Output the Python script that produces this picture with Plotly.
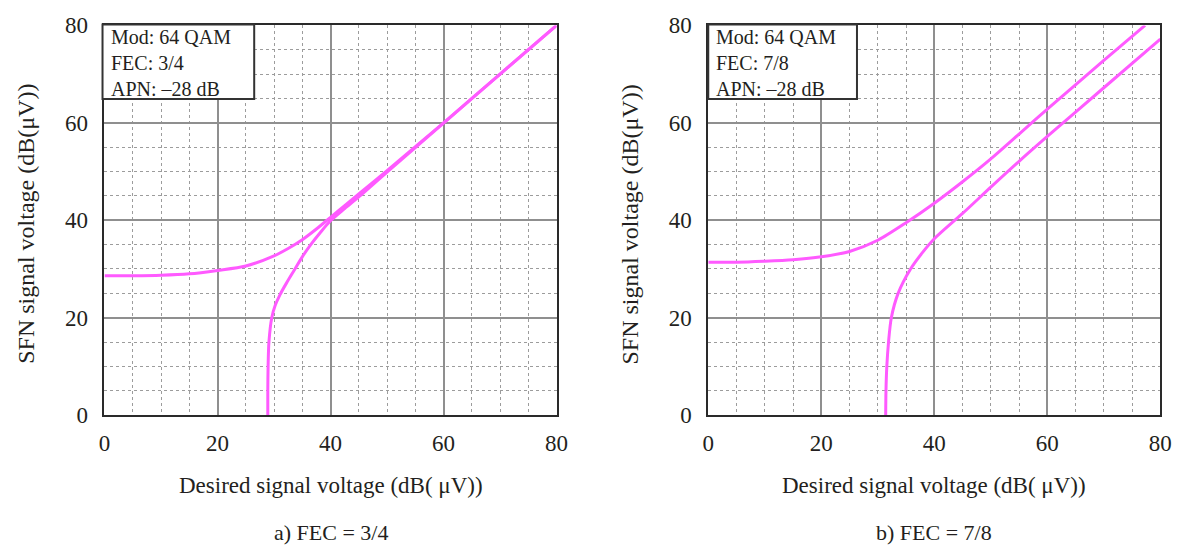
import plotly.graph_objects as go

# ---- data -------------------------------------------------------------
tick_vals = [0, 20, 40, 60, 80]

# a) FEC = 3/4
a_upper_x = [0, 5, 10, 15, 20, 25, 30, 32.5, 35, 37.5, 40, 42.5, 45, 50, 60, 70, 80]
a_upper_y = [28.6, 28.6, 28.7, 29.0, 29.7, 30.6, 32.7, 34.2, 36.0, 38.2, 40.6, 43.0, 45.4, 50.2, 60, 70, 80]
a_lower_x = [28.9, 28.9, 28.95, 29.1, 29.6, 30.2, 31.0, 32.2, 33.6, 35.0, 36.5, 38.2, 40.0, 42.5, 45, 50, 60, 70, 80]
a_lower_y = [0, 5, 10, 15, 20, 22.5, 24.6, 27.1, 29.8, 32.5, 35.0, 37.5, 39.9, 42.4, 44.8, 49.9, 59.95, 70, 80]

# b) FEC = 7/8
b_upper_x = [0, 5, 10, 15, 20, 25, 30, 35, 40, 45, 50, 55, 60, 70, 77.3]
b_upper_y = [31.4, 31.4, 31.6, 31.9, 32.5, 33.6, 35.9, 39.5, 43.5, 47.9, 52.6, 57.7, 62.8, 72.8, 80]
b_lower_x = [31.4, 31.45, 31.6, 31.9, 32.4, 33.6, 35.8, 38.0, 40.0, 45, 50, 55, 60, 70, 80]
b_lower_y = [0, 5, 10, 15, 20, 25, 30, 33.5, 36.2, 41.4, 46.8, 52.1, 57.2, 67.2, 77.2]

info_a = ["Mod: 64 QAM", "FEC: 3/4", "APN: \u201328 dB"]
info_b = ["Mod: 64 QAM", "FEC: 7/8", "APN: \u201328 dB"]
x_title = "Desired signal voltage (dB( \u03bcV))"
y_title = "SFN signal voltage (dB(\u03bcV))"
captions = ["a) FEC = 3/4", "b) FEC = 7/8"]

# ---- styling ----------------------------------------------------------
W, H = 1194, 560
FONT = "Liberation Serif"
TXT = "#231f20"
CURVE = "#ff5aff"


def px(p):
    return p / W


def py(p):
    return 1 - p / H


fig = go.Figure()

line_style = dict(color=CURVE, width=3, shape="spline", smoothing=0.8)
for xs, ys, xa, ya in [
    (a_upper_x, a_upper_y, "x", "y"),
    (a_lower_x, a_lower_y, "x", "y"),
    (b_upper_x, b_upper_y, "x2", "y2"),
    (b_lower_x, b_lower_y, "x2", "y2"),
]:
    fig.add_trace(go.Scatter(x=xs, y=ys, mode="lines", line=line_style,
                             xaxis=xa, yaxis=ya, showlegend=False,
                             hoverinfo="skip", cliponaxis=True))

common = dict(
    range=[0, 80], tickvals=tick_vals, showgrid=True,
    gridcolor="#8f8f8f", gridwidth=1.5,
    showline=True, mirror=True, linecolor="#2a2a2a", linewidth=2,
    ticks="", zeroline=False, fixedrange=True,
    tickfont=dict(family=FONT, size=23, color=TXT),
)
x_minor = dict(dtick=5, showgrid=True, gridcolor="#9c9c9c", gridwidth=1, griddash="dot")
y_minor = dict(dtick=5, showgrid=True, gridcolor="#9c9c9c", gridwidth=1, griddash="3px,3px")

y_dom = [py(422), py(14)]
fig.update_layout(
    width=W, height=H, autosize=False,
    margin=dict(l=0, r=0, t=0, b=0),
    paper_bgcolor="white", plot_bgcolor="white",
    xaxis=dict(domain=[px(100), px(559)], anchor="y", minor=x_minor,
               ticklabelstandoff=6, **common),
    yaxis=dict(domain=y_dom, anchor="x", minor=y_minor,
               ticklabelstandoff=10, **common),
    xaxis2=dict(domain=[px(713), px(1172)], anchor="y2", minor=x_minor,
                ticklabelstandoff=6, **common),
    yaxis2=dict(domain=y_dom, anchor="x2", minor=y_minor,
                ticklabelstandoff=10, **common),
)

# info boxes: framed rectangle with a three-line text block inside
shapes = []
annotations = []
for (bx0, bx1, tx, lines) in [(98, 252, 106, info_a), (713, 864, 720, info_b)]:
    shapes.append(dict(type="rect", xref="paper", yref="paper",
                       x0=px(bx0), x1=px(bx1), y0=py(91), y1=py(13),
                       line=dict(color="#333333", width=2),
                       fillcolor="white", layer="above"))
    annotations.append(dict(text="<br>".join(lines), xref="paper", yref="paper",
                            x=px(tx), y=py(53), xanchor="left", yanchor="middle",
                            align="left", showarrow=False, borderpad=0,
                            font=dict(family=FONT, size=20, color=TXT)))

# axis titles and captions
for cx, ylx, cap in [(329.5, 20, captions[0]), (942.5, 634, captions[1])]:
    annotations.append(dict(text=x_title, xref="paper", yref="paper",
                            x=px(cx), y=py(496), xanchor="center", yanchor="middle",
                            showarrow=False, font=dict(family=FONT, size=23, color=TXT)))
    annotations.append(dict(text=cap, xref="paper", yref="paper",
                            x=px(cx), y=py(545), xanchor="center", yanchor="middle",
                            showarrow=False, font=dict(family=FONT, size=22, color=TXT)))
    annotations.append(dict(text=y_title, xref="paper", yref="paper",
                            x=px(ylx), y=py(222), xanchor="center", yanchor="middle",
                            textangle=-90, showarrow=False,
                            font=dict(family=FONT, size=24, color=TXT)))

fig.update_layout(shapes=shapes, annotations=annotations)

# let the figure sit flush in the page, without the default body margin
fig.write_html("out.html",
               post_script="document.body.style.margin='0';"
                           "document.body.style.overflow='hidden';")
